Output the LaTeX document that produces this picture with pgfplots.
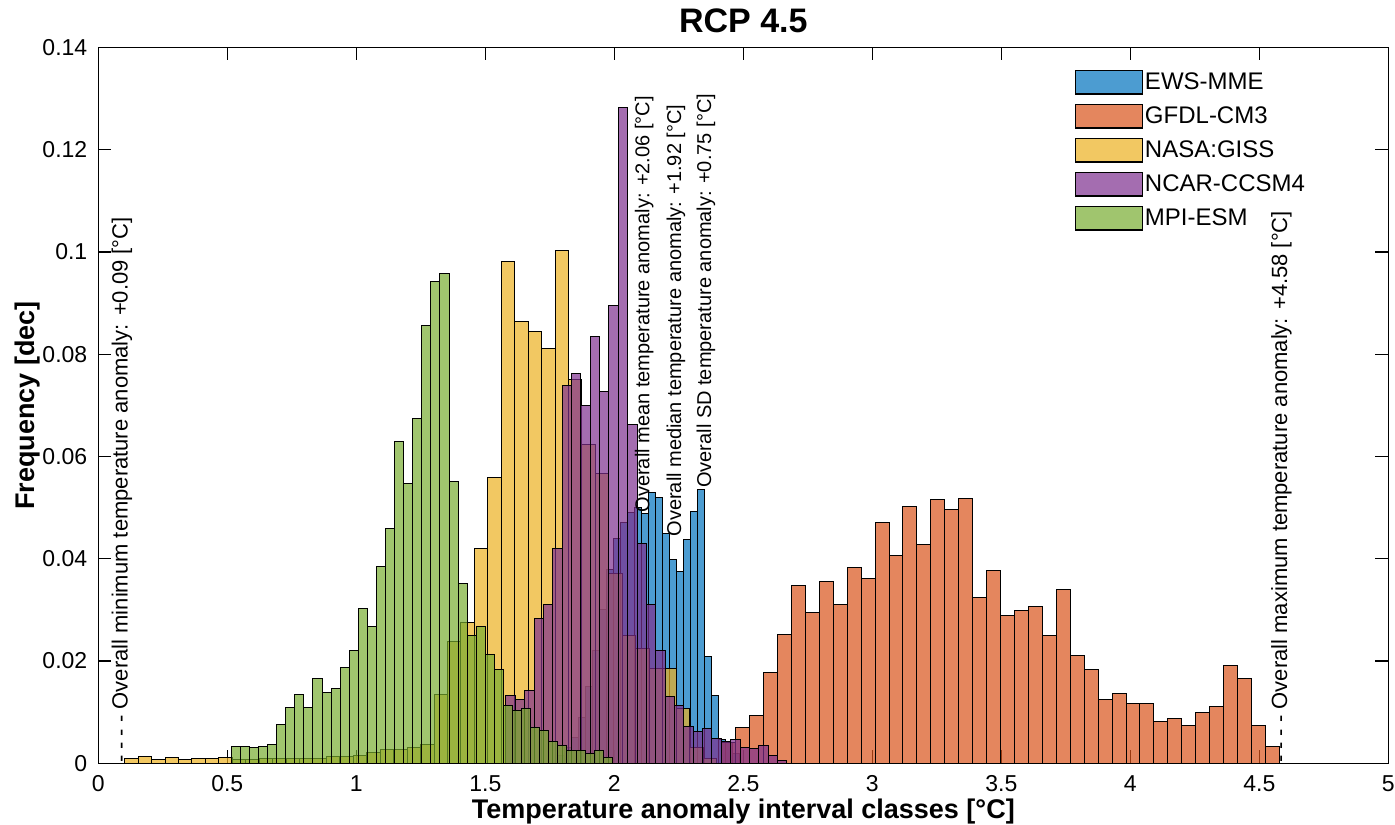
\documentclass[border=0pt]{standalone}
\usepackage{fontspec}
\setmainfont{Liberation Sans}
\usepackage{pgfplots}
\pgfplotsset{compat=1.18}

% default MATLAB line colours
\definecolor{cEWS}{RGB}{0,114,189}
\definecolor{cGFDL}{RGB}{217,83,25}
\definecolor{cNASA}{RGB}{237,177,32}
\definecolor{cNCAR}{RGB}{126,47,142}
\definecolor{cMPI}{RGB}{119,172,48}

\pgfplotsset{
  histbar/.style={
    ybar interval, fill=#1, fill opacity=0.7, draw=black, draw opacity=1,
    line width=0.5pt,
    legend image code/.code={%
      \draw[fill=#1, fill opacity=0.7, draw=black, line width=0.6pt]
        (0pt,-5.9pt) rectangle (33.5pt,5.9pt);}
  }
}
\tikzset{
  annot/.style={rotate=90, anchor=west, inner sep=0pt,
    font=\fontsize{10}{12}\selectfont},
  annotbig/.style={annot, font=\fontsize{11}{13}\selectfont}
}

\begin{document}
\begin{tikzpicture}
\begin{axis}[
  scale only axis, width=645pt, height=357.9pt,
  xmin=0, xmax=5, ymin=0, ymax=0.14,
  xtick={0,0.5,...,5}, ytick={0,0.02,...,0.14},
  x tick label as interval=false,
  tick align=inside, major tick length=6.5pt,
  axis line style={line width=0.6pt}, every tick/.style={line width=0.6pt, black},
  tick label style={font=\fontsize{11.5}{13}\selectfont},
  xticklabel style={yshift=-2.5pt},
  yticklabel style={xshift=-2pt, /pgf/number format/fixed, /pgf/number format/precision=2},
  /pgf/number format/assume math mode=true,
  title={RCP 4.5},
  xlabel={Temperature anomaly interval classes [°C]},
  ylabel={Frequency [dec]},
  every axis title/.style={at={(axis description cs:0.5,1.0207)}, anchor=base,
    font=\bfseries\fontsize{17}{20}\selectfont},
  every axis x label/.style={at={(axis description cs:0.5,-0.0768)}, anchor=base,
    font=\bfseries\fontsize{13.5}{16}\selectfont},
  every axis y label/.style={at={(axis description cs:-0.0494,0.5)}, rotate=90, anchor=base,
    font=\bfseries\fontsize{13.5}{16}\selectfont},
  legend cell align=left,
  legend style={at={(axis description cs:0.752,0.975)}, anchor=north west,
    draw=none, fill=none, font=\fontsize{12}{14}\selectfont,
    nodes={inner sep=1pt}, row sep=4.6pt},
]

% EWS-MME
\addplot[histbar=cEWS] coordinates {
 (1.7814,0.0015) (1.8085,0.0030) (1.8357,0.0050) (1.8628,0.0090) (1.8899,0.0150)
 (1.9171,0.0220) (1.9442,0.0300) (1.9713,0.0380) (1.9984,0.0440) (2.0256,0.0470)
 (2.0527,0.0490) (2.0798,0.0500) (2.1070,0.0489) (2.1341,0.0530) (2.1612,0.0519)
 (2.1884,0.0450) (2.2155,0.0399) (2.2426,0.0375) (2.2697,0.0437) (2.2969,0.0493)
 (2.3240,0.0536) (2.3511,0.0209) (2.3783,0.0132) (2.4054,0.0047) (2.4325,0.0040)
 (2.4597,0.0020) (2.4868,0)
};
\addlegendentry{EWS-MME}

% GFDL-CM3
\addplot[histbar=cGFDL] coordinates {
 (2.4165,0.0040)
 (2.4705,0.00694) (2.5245,0.00932) (2.5786,0.01776) (2.6326,0.02523) (2.6866,0.0348)
 (2.7407,0.0294) (2.7947,0.0355) (2.8487,0.0310) (2.9027,0.0383) (2.9568,0.0361)
 (3.0108,0.0470) (3.0648,0.0406) (3.1189,0.0503) (3.1729,0.0427) (3.2269,0.0515)
 (3.2810,0.0497) (3.3350,0.0518) (3.3890,0.0325) (3.4430,0.0377) (3.4971,0.0289)
 (3.5511,0.0299) (3.6051,0.0307) (3.6592,0.0249) (3.7132,0.0340) (3.7672,0.0211)
 (3.8213,0.0184) (3.8753,0.01255) (3.9293,0.01368) (3.9833,0.01175) (4.0374,0.01175)
 (4.0914,0.00819) (4.1454,0.00884) (4.1995,0.00746) (4.2535,0.00991) (4.3075,0.01116)
 (4.3616,0.0192) (4.4156,0.01665) (4.4696,0.00746) (4.5236,0.00323) (4.5777,0)
};
\addlegendentry{GFDL-CM3}

% NASA:GISS
\addplot[histbar=cNASA] coordinates {
 (0.1023,0.0010) (0.1544,0.0013) (0.2066,0.0008) (0.2587,0.0012) (0.3108,0.0008)
 (0.3630,0.0010) (0.4151,0.0010) (0.4672,0.0012) (0.5193,0.0008) (0.5715,0.0008)
 (0.6236,0.0010) (0.6757,0.0010) (0.7279,0.0010) (0.7800,0.0010) (0.8321,0.0010)
 (0.8843,0.0014) (0.9364,0.0013) (0.9885,0.0016) (1.0406,0.0021) (1.0928,0.0027)
 (1.1449,0.0027) (1.1970,0.0031) (1.2492,0.0037) (1.3013,0.0134) (1.3534,0.0238)
 (1.4056,0.0276) (1.4577,0.0421) (1.5098,0.0559) (1.5619,0.0982) (1.6141,0.0864)
 (1.6662,0.0845) (1.7183,0.0811) (1.7705,0.1002) (1.8226,0.0750) (1.8747,0.0623)
 (1.9269,0.0566) (1.9790,0.0372) (2.0311,0.0250) (2.0832,0.0225) (2.1354,0.0186)
 (2.1875,0.0186) (2.2396,0.0108) (2.2918,0.0030) (2.3439,0.0010) (2.3960,0)
};
\addlegendentry{NASA:GISS}

% NCAR-CCSM4
\addplot[histbar=cNCAR] coordinates {
 (1.5802,0.0133) (1.6165,0.0124) (1.6528,0.0142) (1.6890,0.0283) (1.7253,0.0311)
 (1.7616,0.0421) (1.7979,0.0738) (1.8342,0.0762) (1.8704,0.0700) (1.9067,0.0835)
 (1.9430,0.0727) (1.9793,0.0895) (2.0156,0.1282) (2.0518,0.0663) (2.0881,0.0430)
 (2.1244,0.0310) (2.1607,0.0220) (2.1970,0.0130) (2.2332,0.0113) (2.2695,0.0072)
 (2.3058,0.0062) (2.3421,0.0069) (2.3784,0.0048) (2.4146,0.0043) (2.4509,0.0046)
 (2.4872,0.0030) (2.5235,0.0028) (2.5598,0.0034) (2.5960,0.0016) (2.6323,0.0005)
 (2.6686,0)
};
\addlegendentry{NCAR-CCSM4}

% MPI-ESM
\addplot[histbar=cMPI] coordinates {
 (0.5155,0.0032) (0.5507,0.0032) (0.5858,0.0031) (0.6210,0.0032) (0.6561,0.0037)
 (0.6913,0.0076) (0.7265,0.0109) (0.7616,0.0135) (0.7968,0.0109) (0.8319,0.0165)
 (0.8671,0.0139) (0.9023,0.0147) (0.9374,0.0187) (0.9726,0.0220) (1.0077,0.0302)
 (1.0429,0.0268) (1.0781,0.0384) (1.1132,0.0460) (1.1484,0.0630) (1.1835,0.0547)
 (1.2187,0.0675) (1.2539,0.0857) (1.2890,0.0943) (1.3242,0.0958) (1.3593,0.0551)
 (1.3945,0.0352) (1.4297,0.0250) (1.4648,0.0268) (1.5000,0.0213) (1.5351,0.0183)
 (1.5703,0.0114) (1.6055,0.0104) (1.6406,0.0108) (1.6758,0.0070) (1.7109,0.0064)
 (1.7461,0.0042) (1.7813,0.0035) (1.8164,0.0026) (1.8516,0.0025) (1.8867,0.0020)
 (1.9219,0.0026) (1.9571,0.0012) (1.9922,0)
};
\addlegendentry{MPI-ESM}

% summary statistics written along the distribution
\node[annotbig] at (axis cs:0.092,0) {- - - - Overall minimum temperature anomaly: +0.09 [°C]};
\node[annot] at (axis cs:2.116,0.0490) {Overall mean temperature anomaly: +2.06 [°C]};
\node[annot] at (axis cs:2.239,0.0443) {Overall median temperature anomaly: +1.92 [°C]};
\node[annot] at (axis cs:2.355,0.0538) {Overall SD temperature anomaly: +0.75 [°C]};
\node[annotbig] at (axis cs:4.586,0) {- - - - Overall maximum temperature anomaly: +4.58 [°C]};
\end{axis}
\pgfresetboundingbox
\path (-49.15pt,-30.35pt) rectangle (648.35pt,381.65pt);
\end{tikzpicture}
\end{document}
